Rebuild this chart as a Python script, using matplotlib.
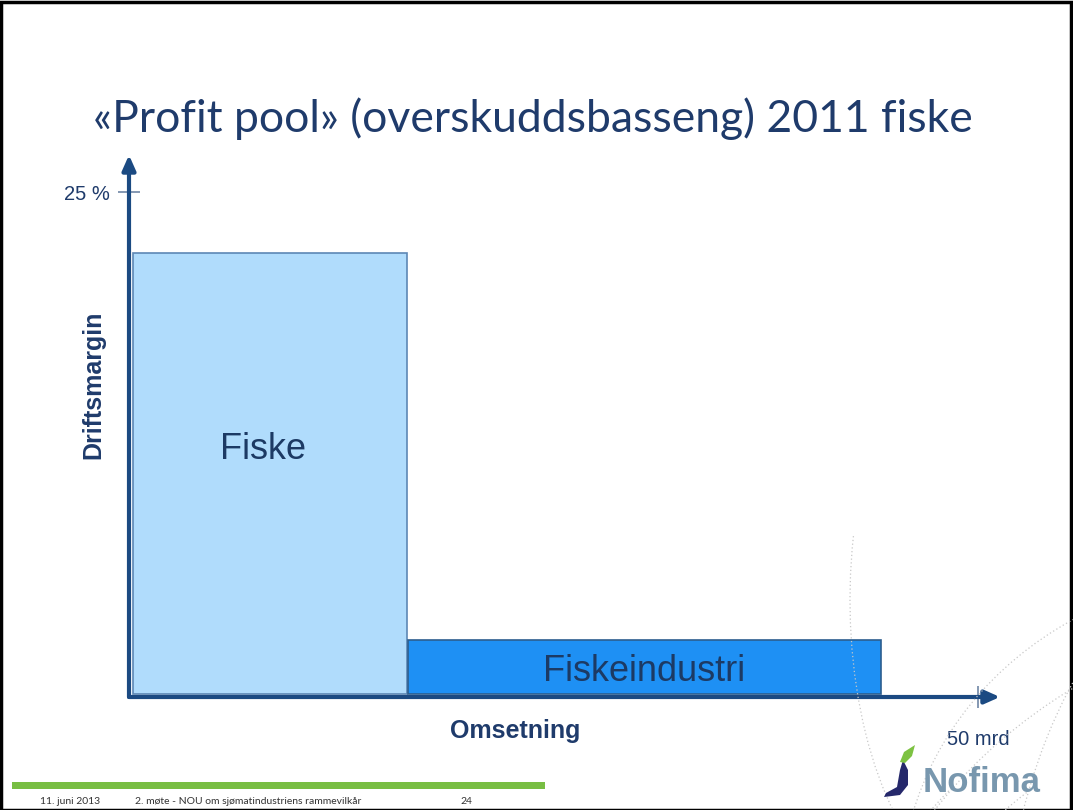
import matplotlib.pyplot as plt
from matplotlib.patches import Rectangle, Arc, Polygon

# data: turnover (mrd NOK) as bar width, operating margin (%) as bar height
segments = ["Fiske", "Fiskeindustri"]
omsetning = [16.1, 27.9]
driftsmargin = [22.0, 2.8]

W, H = 1073, 810
NAVY = "#1F3B6B"
AXIS_BLUE = "#1B4A82"

fig = plt.figure(figsize=(W / 100, H / 100), dpi=100)
fig.patch.set_facecolor("white")


def fx(px):
    return px / W


def fy(py):
    return 1 - py / H


# slide border
fig.patches.append(Rectangle((0.001, 0.0), 0.997, 0.998, transform=fig.transFigure,
                             fill=False, edgecolor="black", linewidth=2.5))

# faint dotted background swirls (bottom right)
for cx, cy, w, h, t1, t2 in [(1400, 1050, 1100, 900, 120, 200),
                             (1300, 1150, 900, 900, 120, 190),
                             (1250, 900, 700, 650, 95, 185),
                             (1150, 1200, 700, 1000, 110, 175),
                             (600, 1100, 900, 650, 0, 60),
                             (1000, 600, 300, 600, 150, 260),
                             (1250, 1000, 500, 900, 100, 170)]:
    fig.patches.append(Arc((fx(cx), fy(cy)), w / W, h / H, theta1=t1, theta2=t2,
                           transform=fig.transFigure, color="#C8C8C8",
                           linewidth=0.9, linestyle=(0, (1, 2))))

# axes area: origin at (129, 697) px, arrow tips at x=1000, y=155
x0, y0, x1, y1 = 129, 697, 1000, 155
ax = fig.add_axes([fx(x0), fy(y0), fx(x1 - x0), (y0 - y1) / H])
ax.set_facecolor("none")
xmax = 50 * (x1 - x0) / (978 - x0)
ymax = 25 * (y0 - y1) / (y0 - 192)
ax.set_xlim(0, xmax)
ax.set_ylim(0, ymax)
for s in ax.spines.values():
    s.set_visible(False)

# bars of variable width
fills = ["#B0DCFC", "#1E90F4"]
edges = ["#5D87B5", "#2C5E8F"]
left = 0.25
for name, w, h, fc, ec in zip(segments, omsetning, driftsmargin, fills, edges):
    ax.add_patch(Rectangle((left, 0.15), w, h - 0.15, facecolor=fc,
                           edgecolor=ec, linewidth=1.2, zorder=2))
    ty = h / 2 + 1.25 if h > 10 else h / 2 - 0.15
    tx = left + w / 2 - (0.4 if h > 10 else 0)
    ax.text(tx, ty, name, ha="center", va="center",
            fontsize=26, color="#1C3A64", family="Liberation Sans", zorder=3)
    left += w + 0.06

# axis arrows
arrow = dict(arrowstyle="-|>,head_length=0.9,head_width=0.4", color=AXIS_BLUE,
             linewidth=3, shrinkA=0, shrinkB=0)
ax.annotate("", xy=(xmax, 0), xytext=(0, 0), arrowprops=arrow, annotation_clip=False)
ax.annotate("", xy=(0, ymax), xytext=(0, 0), arrowprops=arrow, annotation_clip=False)

ax.set_xticks([50])
ax.set_xticklabels(["50 mrd"])
ax.set_yticks([25])
ax.set_yticklabels(["25 %"])
ax.tick_params(axis="both", direction="inout", length=16, width=1.2,
               color="#6F86A6", labelcolor=NAVY, labelsize=14.5)
ax.tick_params(axis="x", pad=16)
ax.tick_params(axis="y", pad=6)
for lab in ax.get_xticklabels() + ax.get_yticklabels():
    lab.set_family("Liberation Sans")

fig.text(fx(515), fy(731), "Omsetning", ha="center", va="center", fontsize=18,
         fontweight="bold", color=NAVY, family="Liberation Sans")
fig.text(fx(93), fy(385), "Driftsmargin", ha="center", va="center", rotation=90,
         fontsize=18, fontweight="bold", color=NAVY, family="Liberation Sans")

# title
fig.text(fx(533), fy(119), "«Profit pool» (overskuddsbasseng) 2011 fiske",
         ha="center", va="center", fontsize=32, color=NAVY, family="Lato")

# footer
fig.patches.append(Rectangle((fx(12), fy(789)), fx(533), 7 / H, transform=fig.transFigure,
                             facecolor="#78BE43", edgecolor="none"))
for px, txt in [(40, "11. juni 2013"), (135, "2. møte - NOU om sjømatindustriens rammevilkår"),
                (460, "24")]:
    fig.text(fx(px), fy(802), txt, ha="left", va="center", fontsize=7.5,
             color="#333333", family="Lato")

# Nofima logo
fig.text(fx(923), fy(783), "Nofima", ha="left", va="center", fontsize=25,
         fontweight="bold", color="#7897AE", family="Liberation Sans")
fig.patches.append(Polygon([(fx(884), fy(797)), (fx(900), fy(795)), (fx(908), fy(785)),
                            (fx(908), fy(770)), (fx(903), fy(760)), (fx(900), fy(770)),
                            (fx(897), fy(787)), (fx(886), fy(793))],
                           closed=True, transform=fig.transFigure,
                           facecolor="#25286B", edgecolor="none"))
fig.patches.append(Polygon([(fx(900), fy(762)), (fx(904), fy(752)), (fx(915), fy(745)),
                            (fx(912), fy(756)), (fx(905), fy(763))],
                           closed=True, transform=fig.transFigure,
                           facecolor="#7DC242", edgecolor="none"))

fig.savefig("out.png", dpi=100)
